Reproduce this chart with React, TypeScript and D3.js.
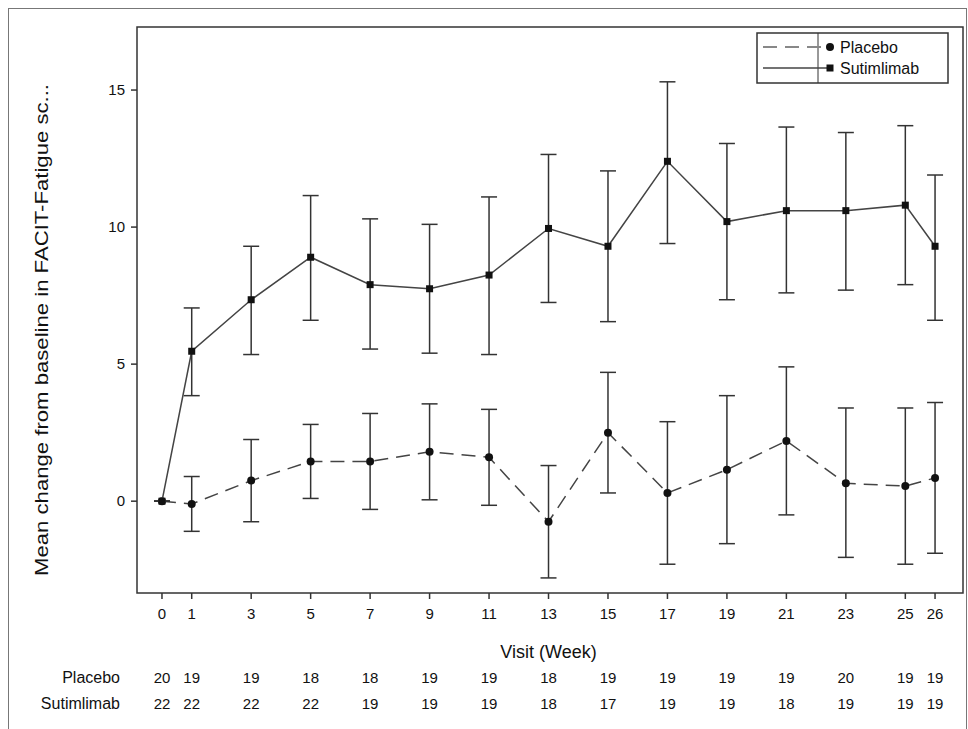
import React from "react";
import * as d3 from "d3";

const weeks = [0, 1, 3, 5, 7, 9, 11, 13, 15, 17, 19, 21, 23, 25, 26];
const sutMean = [0, 5.47, 7.35, 8.9, 7.9, 7.75, 8.25, 9.95, 9.3, 12.4, 10.2, 10.6, 10.6, 10.8, 9.3];
const sutLow = [0, 3.85, 5.35, 6.6, 5.55, 5.4, 5.35, 7.25, 6.55, 9.4, 7.35, 7.6, 7.7, 7.9, 6.6];
const sutHigh = [0, 7.05, 9.3, 11.15, 10.3, 10.1, 11.1, 12.65, 12.05, 15.3, 13.05, 13.65, 13.45, 13.7, 11.9];
const plaMean = [0, -0.1, 0.75, 1.45, 1.45, 1.8, 1.6, -0.75, 2.5, 0.3, 1.15, 2.2, 0.65, 0.55, 0.85];
const plaLow = [0, -1.1, -0.75, 0.1, -0.3, 0.05, -0.15, -2.8, 0.3, -2.3, -1.55, -0.5, -2.05, -2.3, -1.9];
const plaHigh = [0, 0.9, 2.25, 2.8, 3.2, 3.55, 3.35, 1.3, 4.7, 2.9, 3.85, 4.9, 3.4, 3.4, 3.6];
const plaN = [20, 19, 19, 18, 18, 19, 19, 18, 19, 19, 19, 19, 20, 19, 19];
const sutN = [22, 22, 22, 22, 19, 19, 19, 18, 17, 19, 19, 18, 19, 19, 19];
const yTicks = [0, 5, 10, 15];

const W = 968, H = 729;
const L = 137, R = 963, T = 27, B = 593;
const x = d3.scaleLinear().domain([-0.84, 26.94]).range([L, R]);
const y = d3.scaleLinear().domain([-3.35, 17.3]).range([B, T]);
const C = "#333";
const font = "'Liberation Sans', Arial, sans-serif";

function Series({ mean, low, high, dash, shape }: any) {
  const line = d3.line<number>().x((_, i) => x(weeks[i])).y((d) => y(d));
  return (
    <g>
      <path d={line(mean) || ""} fill="none" stroke="#444" strokeWidth={1.5} strokeDasharray={dash} />
      {weeks.map((w, i) => (
        <g key={i} stroke={C} strokeWidth={1.5}>
          <line x1={x(w)} x2={x(w)} y1={y(low[i])} y2={y(high[i])} />
          <line x1={x(w) - 8} x2={x(w) + 8} y1={y(low[i])} y2={y(low[i])} />
          <line x1={x(w) - 8} x2={x(w) + 8} y1={y(high[i])} y2={y(high[i])} />
        </g>
      ))}
      {weeks.map((w, i) =>
        shape === "c" ? (
          <circle key={"m" + i} cx={x(w)} cy={y(mean[i])} r={4} fill="#111" />
        ) : (
          <rect key={"m" + i} x={x(w) - 3.5} y={y(mean[i]) - 3.5} width={7} height={7} fill="#111" />
        )
      )}
    </g>
  );
}

export default function App() {
  return (
    <svg width={W} height={H} style={{ position: "absolute", left: 0, top: 0 }} fontFamily={font}>
      <rect x={0} y={0} width={W} height={H} fill="#fff" />
      <rect x={8.5} y={8.5} width={W - 10} height={H - 5} fill="none" stroke="#777" />
      <rect x={L} y={T} width={R - L} height={B - T} fill="none" stroke={C} strokeWidth={1.5} />
      {yTicks.map((t) => (
        <g key={t}>
          <line x1={L - 6} x2={L} y1={y(t)} y2={y(t)} stroke={C} strokeWidth={1.5} />
          <text x={L - 12} y={y(t) + 5} textAnchor="end" fontSize={15} fill="#111">{t}</text>
        </g>
      ))}
      {weeks.map((w) => (
        <g key={w}>
          <line x1={x(w)} x2={x(w)} y1={B} y2={B + 6} stroke={C} strokeWidth={1.5} />
          <text x={x(w)} y={B + 26} textAnchor="middle" fontSize={15} fill="#111">{w}</text>
        </g>
      ))}
      <text x={x(13)} y={B + 65} textAnchor="middle" fontSize={18} fill="#111">Visit (Week)</text>
      <text transform={`translate(48,${(T + B) / 2 + 20}) rotate(-90)`} textAnchor="middle" fontSize={19} fill="#111"
        textLength={492} lengthAdjust="spacingAndGlyphs">
        Mean change from baseline in FACIT-Fatigue sc...
      </text>
      <text x={120} y={683} textAnchor="end" fontSize={16} fill="#111">Placebo</text>
      <text x={120} y={709} textAnchor="end" fontSize={16} fill="#111">Sutimlimab</text>
      {weeks.map((w, i) => (
        <g key={"n" + w}>
          <text x={x(w)} y={683} textAnchor="middle" fontSize={15} fill="#111">{plaN[i]}</text>
          <text x={x(w)} y={709} textAnchor="middle" fontSize={15} fill="#111">{sutN[i]}</text>
        </g>
      ))}
      <Series mean={plaMean} low={plaLow} high={plaHigh} dash="14,8" shape="c" />
      <Series mean={sutMean} low={sutLow} high={sutHigh} dash="" shape="s" />
      <g>
        <rect x={757} y={33} width={191} height={50} fill="#fff" stroke={C} strokeWidth={1.5} />
        <line x1={818} x2={818} y1={33} y2={83} stroke={C} />
        <line x1={763} x2={822} y1={47} y2={47} stroke="#888" strokeWidth={2} strokeDasharray="14,8" />
        <circle cx={830} cy={47} r={4} fill="#111" />
        <text x={840} y={53} fontSize={16} fill="#111">Placebo</text>
        <line x1={763} x2={830} y1={68} y2={68} stroke="#444" strokeWidth={1.5} />
        <rect x={826.5} y={64.5} width={7} height={7} fill="#111" />
        <text x={840} y={74} fontSize={16} fill="#111">Sutimlimab</text>
      </g>
    </svg>
  );
}
